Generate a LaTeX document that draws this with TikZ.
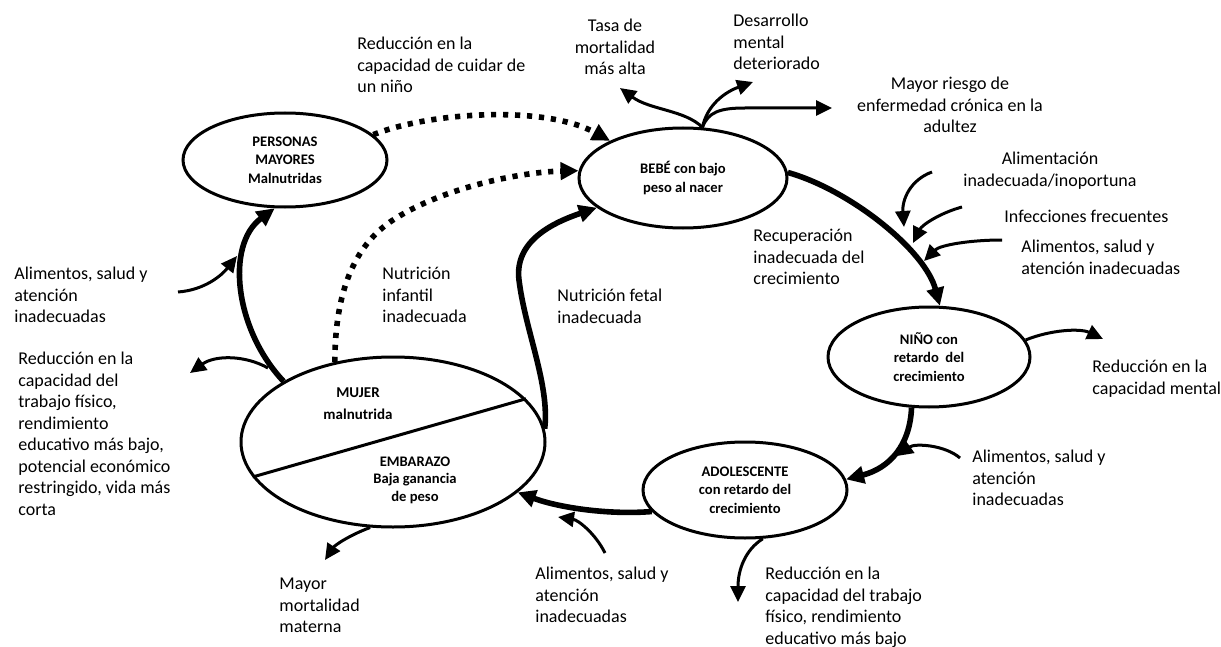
\documentclass[tikz,border=0pt]{standalone}
\usepackage{fontspec}
\setmainfont{Carlito}
\usetikzlibrary{arrows.meta,shapes.geometric}
\begin{document}
\begin{tikzpicture}[x=0.5pt,y=-0.5pt,
  ell/.style={draw, line width=1.5pt, ellipse, inner sep=0pt, align=center,
    font=\fontsize{7.3}{9.3}\selectfont\bfseries},
  intext/.style={inner sep=0pt, align=center, font=\fontsize{7.5}{11}\selectfont\bfseries},
  lbl/.style={inner sep=0pt, align=left, anchor=north west, font=\fontsize{9}{10.75}\selectfont},
  lblc/.style={lbl, align=center, anchor=north},
  bigarrow/.style={line width=2.8pt, -{Triangle[length=9pt,width=8.5pt]}},
  smallarrow/.style={line width=1.5pt, -{Triangle[length=8pt,width=7.5pt]}},
  dotarrow/.style={line width=2.8pt, dash pattern=on 2.6pt off 3.4pt, -{Triangle[length=9pt,width=8.5pt]}}
]
\useasboundingbox[fill=white] (0,0) rectangle (1221,647);

% main nodes
\node[ell, minimum width=102pt, minimum height=47pt] (pm) at (285,160) {PERSONAS\\MAYORES\\Malnutridas};
\node[ell, minimum width=104pt, minimum height=50pt] (bebe) at (683,178) {BEBÉ con bajo\\peso al nacer};
\node[ell, minimum width=101pt, minimum height=50pt] (nino) at (929,357) {NIÑO con\\retardo\ \ del\\crecimiento};
\node[ell, minimum width=102pt, minimum height=48pt] (adol) at (745,490) {ADOLESCENTE\\con retardo del\\crecimiento};
\node[ell, minimum width=152pt, minimum height=85pt] (mujer) at (393,442) {};
\draw[line width=1.5pt] (mujer.194) -- (mujer.18);
\node[intext] (mt) at (358,404) {MUJER\\malnutrida};
\node[intext, font=\fontsize{7.3}{8.75}\selectfont\bfseries] (et) at (415,480) {EMBARAZO\\Baja ganancia\\de peso};

% labels
\node[lbl] (l1) at (357,37) {Reducción en la\\capacidad de cuidar de\\un niño};
\node[lblc] (l2) at (615,19) {Tasa de\\mortalidad\\más alta};
\node[lbl] (l3) at (733,14) {Desarrollo\\mental\\deteriorado};
\node[lblc] (l4) at (950,77) {Mayor riesgo de\\enfermedad crónica en la\\adultez};
\node[lblc] (l5) at (1050,152) {Alimentación\\inadecuada/inoportuna};
\node[lbl] (l6) at (1004,210) {Infecciones frecuentes};
\node[lbl] (l7) at (1021,240) {Alimentos, salud y\\atención inadecuadas};
\node[lbl] (l8) at (753,229) {Recuperación\\inadecuada del\\crecimiento};
\node[lbl] (l9) at (1092,360) {Reducción en la\\capacidad mental};
\node[lbl] (l10) at (972,450) {Alimentos, salud y\\atención\\inadecuadas};
\node[lbl] (l11) at (535,567) {Alimentos, salud y\\atención\\inadecuadas};
\node[lbl] (l12) at (765,567) {Reducción en la\\capacidad del trabajo\\físico, rendimiento\\educativo más bajo};
\node[lbl] (l13) at (279,578) {Mayor\\mortalidad\\materna};
\node[lbl] (l14) at (18,352) {Reducción en la\\capacidad del\\trabajo físico,\\rendimiento\\educativo más bajo,\\potencial económico\\restringido, vida más\\corta};
\node[lbl] (l15) at (14,267) {Alimentos, salud y\\atención\\inadecuadas};
\node[lbl] (l16) at (382,267) {Nutrición\\infantil\\inadecuada};
\node[lbl] (l17) at (557,289) {Nutrición fetal\\inadecuada};

% free ends
\coordinate (btop) at (bebe.69);
\coordinate (tasa) at (620,88);
\coordinate (desa) at (753,82);
\coordinate (mayr) at (832,108);
\coordinate (a1s) at (932,172); \coordinate (a1e) at (904,227);
\coordinate (a2s) at (962,207); \coordinate (a2e) at (913,243);
\coordinate (a3s) at (1002,240); \coordinate (a3e) at (924,261);
\coordinate (a4s) at (960,458); \coordinate (a4e) at (897,456);
\coordinate (a5e) at (1103,339);
\coordinate (a6s) at (605,553); \coordinate (a6e) at (558,517);
\coordinate (a7e) at (738,602);
\coordinate (a8e) at (325,560);
\coordinate (a9s) at (178,292); \coordinate (a9e) at (237,256);
\coordinate (a10s) at (268,368); \coordinate (a10e) at (190,373);

% main cycle
\draw[bigarrow] (mujer.5) .. controls (550,385) and (525,330) .. (519,280)
   .. controls (514,240) and (555,222) .. (bebe.199);
\draw[bigarrow] (bebe.3) .. controls (850,190) and (925,250) .. (nino.78);
\draw[bigarrow] (nino.251) .. controls (910,445) and (890,468) .. (adol.6);
\draw[bigarrow] (adol.193) .. controls (610,515) and (560,508) .. (mujer.338);
\draw[bigarrow] (mujer.151) .. controls (235,330) and (225,245) .. (pm.258);

% dotted
\draw[dotarrow] (pm.16) .. controls (430,112) and (545,105) .. (bebe.153);
\draw[dotarrow] (mujer.126) .. controls (335,300) and (350,250) .. (390,222)
   .. controls (440,188) and (520,172) .. (bebe.176);

% small arrows
\draw[smallarrow] (btop) .. controls (685,110) and (650,110) .. (tasa);
\draw[smallarrow] (btop) .. controls (707,105) and (725,92) .. (desa);
\draw[smallarrow] (btop) .. controls (708,112) and (720,108) .. (745,108) -- (mayr);
\draw[smallarrow] (a1s) .. controls (910,180) and (902,200) .. (a1e);
\draw[smallarrow] (a2s) .. controls (940,213) and (922,225) .. (a2e);
\draw[smallarrow] (a3s) .. controls (970,240) and (940,245) .. (a3e);
\draw[smallarrow] (a4s) .. controls (945,445) and (915,443) .. (a4e);
\draw[smallarrow] (nino.10) .. controls (1050,330) and (1080,328) .. (a5e);
\draw[smallarrow] (a6s) .. controls (595,533) and (578,520) .. (a6e);
\draw[smallarrow] (adol.290) .. controls (745,550) and (738,570) .. (a7e);
\draw[smallarrow] (mujer.255) .. controls (350,535) and (335,545) .. (a8e);
\draw[smallarrow] (a9s) .. controls (205,290) and (222,275) .. (a9e);
\draw[smallarrow] (a10s) .. controls (245,355) and (215,355) .. (a10e);
\end{tikzpicture}
\end{document}
